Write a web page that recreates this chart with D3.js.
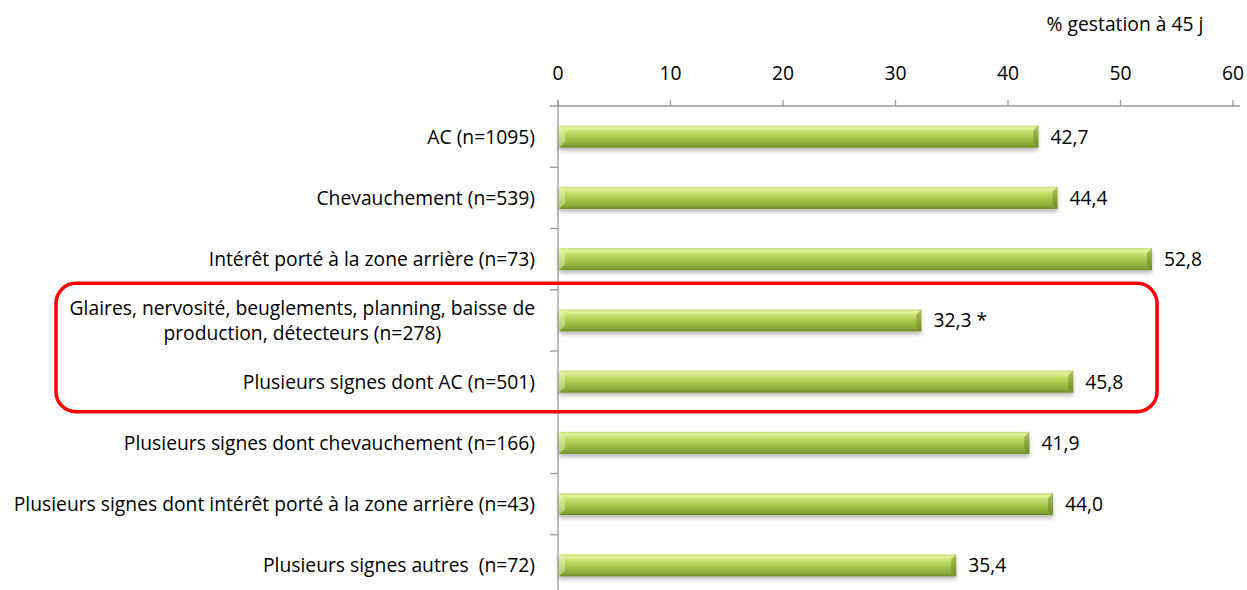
<!DOCTYPE html>
<html>
<head>
<meta charset="utf-8">
<script src="https://cdn.jsdelivr.net/npm/d3@7"></script>
<style>
  html, body { margin: 0; padding: 0; background: #fff; }
  svg { display: block; font-family: "Open Sans", "Lato", sans-serif; }
  svg text { white-space: pre; }
</style>
</head>
<body>
<svg id="chart" width="1247" height="590"></svg>
<script>
// Categories (lines of a wrapped label separated by "|")
const categories = [
  "AC (n=1095)",
  "Chevauchement (n=539)",
  "Intérêt porté à la zone arrière (n=73)",
  "Glaires, nervosité, beuglements, planning, baisse de|production, détecteurs (n=278)",
  "Plusieurs signes dont AC (n=501)",
  "Plusieurs signes dont chevauchement (n=166)",
  "Plusieurs signes dont intérêt porté à la zone arrière (n=43)",
  "Plusieurs signes autres  (n=72)"
];
const values = [42.7, 44.4, 52.8, 32.3, 45.8, 41.9, 44.0, 35.4];
const valueLabels = ["42,7", "44,4", "52,8", "32,3 *", "45,8", "41,9", "44,0", "35,4"];
const xTicks = [0, 10, 20, 30, 40, 50, 60];
const axisTitle = "% gestation à 45 j";
const highlighted = [3, 4];

const FS = 19.3;
const svg = d3.select("#chart");

const x = d3.scaleLinear().domain([0, 60]).range([558, 1233]);
const y = d3.scaleBand().domain(d3.range(categories.length)).range([106, 596]).paddingInner(0.64).paddingOuter(0.32);

const defs = svg.append("defs");
const grad = defs.append("linearGradient").attr("id", "barGrad")
  .attr("x1", 0).attr("y1", 0).attr("x2", 0).attr("y2", 1);
[[0, "#c9de78"], [0.12, "#e2f29c"], [0.3, "#c4dc6a"], [0.6, "#a3c146"], [0.85, "#8aa83a"], [1, "#6f8b2c"]]
  .forEach(([o, c]) => grad.append("stop").attr("offset", o).attr("stop-color", c));

const shadow = defs.append("filter").attr("id", "barShadow")
  .attr("x", "-5%").attr("y", "-30%").attr("width", "110%").attr("height", "200%");
shadow.append("feDropShadow").attr("dx", 0).attr("dy", 3).attr("stdDeviation", 2.2)
  .attr("flood-color", "#000").attr("flood-opacity", 0.28);

// Top axis
const gx = svg.append("g");
gx.append("line").attr("x1", 550).attr("x2", 1240).attr("y1", 106).attr("y2", 106)
  .attr("stroke", "#9a9a9a").attr("stroke-width", 1.3);
gx.selectAll(".xt").data(xTicks).join("line")
  .attr("x1", d => x(d)).attr("x2", d => x(d)).attr("y1", 100).attr("y2", 106)
  .attr("stroke", "#9a9a9a").attr("stroke-width", 1.3);
gx.selectAll(".xl").data(xTicks).join("text")
  .attr("x", d => x(d)).attr("y", 80).attr("text-anchor", "middle")
  .attr("font-size", FS).attr("fill", "#000").text(d => d);

svg.append("text").attr("x", 1125).attr("y", 31).attr("text-anchor", "middle")
  .attr("font-size", FS).attr("fill", "#000").text(axisTitle);

// Left axis
const step = y.step();
svg.append("line").attr("x1", x(0)).attr("x2", x(0)).attr("y1", 100).attr("y2", 596)
  .attr("stroke", "#9a9a9a").attr("stroke-width", 1.3);
svg.selectAll(".yt").data(d3.range(1, categories.length)).join("line")
  .attr("x1", 550).attr("x2", x(0))
  .attr("y1", d => 106 + d * step).attr("y2", d => 106 + d * step)
  .attr("stroke", "#9a9a9a").attr("stroke-width", 1.3);

// Bars
const bars = svg.append("g");
bars.selectAll("rect").data(values).join("rect")
  .attr("x", x(0) + 1).attr("y", (d, i) => y(i))
  .attr("width", d => x(d) - x(0) - 1).attr("height", y.bandwidth())
  .attr("fill", "url(#barGrad)").attr("filter", "url(#barShadow)");
// bevel highlights at the left and right ends
bars.selectAll(".bevL").data(values).join("path")
  .attr("d", (d, i) => `M${x(0) + 1},${y(i)} l6,6 l0,${y.bandwidth() - 12} l-6,6 Z`)
  .attr("fill", "#eef8c0").attr("opacity", 0.45);
bars.selectAll(".bevR").data(values).join("path")
  .attr("d", (d, i) => `M${x(d)},${y(i)} l-5,5 l0,${y.bandwidth() - 10} l5,5 Z`)
  .attr("fill", "#5f7a22").attr("opacity", 0.45);

// Value labels
svg.selectAll(".vl").data(values).join("text")
  .attr("x", d => x(d) + 12).attr("y", (d, i) => y(i) + y.bandwidth() / 2 + 7)
  .attr("font-size", FS).attr("fill", "#000").text((d, i) => valueLabels[i]);

// Category labels
const labelRight = 535;
categories.forEach((c, i) => {
  const lines = c.split("|");
  const cy = y(i) + y.bandwidth() / 2;
  if (lines.length === 1) {
    svg.append("text").attr("x", labelRight).attr("y", cy + 7).attr("text-anchor", "end")
      .attr("font-size", FS).attr("fill", "#000").text(c);
  } else {
    const t = svg.append("text").attr("font-size", FS).attr("fill", "#000").attr("text-anchor", "middle");
    const tmp = svg.append("text").attr("font-size", FS).text(lines[0]);
    const w = tmp.node().getComputedTextLength();
    tmp.remove();
    const cx = labelRight - w / 2;
    lines.forEach((l, k) => {
      t.append("tspan").attr("x", cx).attr("y", cy + 7 + (k - (lines.length - 1) / 2) * 25).text(l);
    });
  }
});

// Highlight frame around the grouped rows
const frameTop = y(highlighted[0]) - 26;
const frameBottom = y(highlighted[highlighted.length - 1]) + y.bandwidth() + 19;
svg.append("rect").attr("x", 56).attr("y", frameTop).attr("width", 1101).attr("height", frameBottom - frameTop)
  .attr("rx", 20).attr("ry", 20).attr("fill", "none").attr("stroke", "#ff0000").attr("stroke-width", 3.5);
</script>
</body>
</html>
